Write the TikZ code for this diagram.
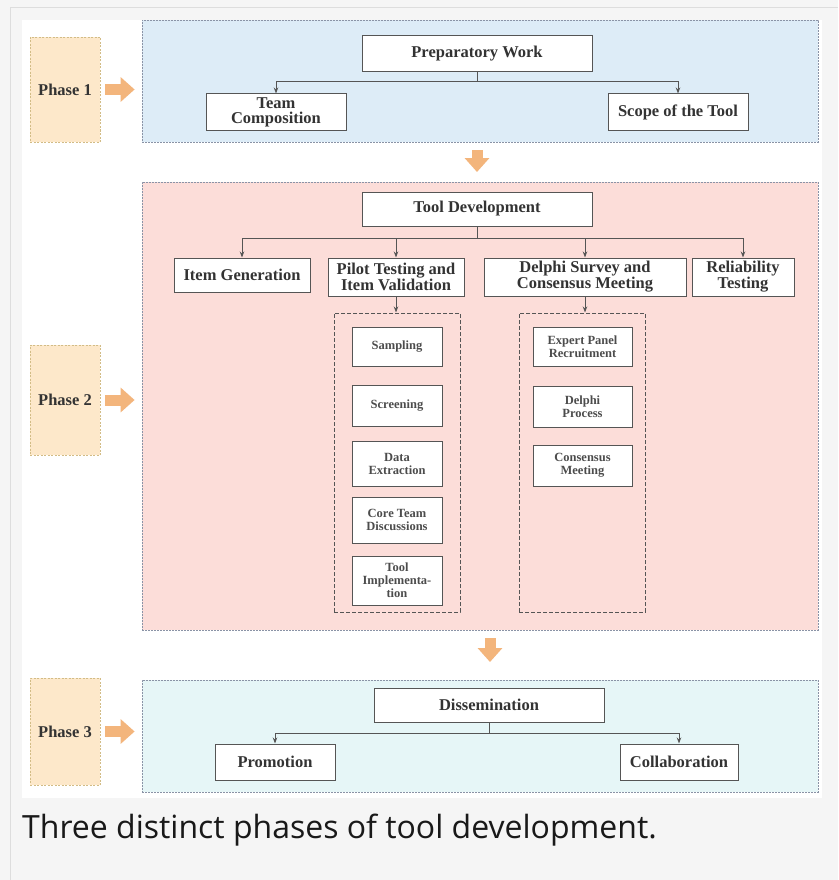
\documentclass[tikz,border=0pt]{standalone}
\usepackage{fontspec}
\setmainfont{Liberation Serif}
\newfontfamily\capfont{Open Sans}
\usetikzlibrary{arrows.meta,calc}
\definecolor{pagebg}{HTML}{F5F5F5}
\definecolor{frameln}{HTML}{DDDDDD}
\definecolor{phfill}{HTML}{FDE8CA}
\definecolor{phline}{HTML}{D2BC86}
\definecolor{blufill}{HTML}{DDECF7}
\definecolor{pinkfill}{HTML}{FCDDD9}
\definecolor{cyanfill}{HTML}{E6F6F7}
\definecolor{contln}{HTML}{8A93A6}
\definecolor{orng}{HTML}{F3B57C}
\definecolor{boxln}{HTML}{555555}
\tikzset{
  x=1pt,y=-1pt,
  box/.style={draw=boxln,line width=1pt,fill=white,align=center,inner sep=1pt,
    font=\bfseries\fontsize{16.5}{15}\selectfont,text=black!80},
  subbox/.style={box,font=\bfseries\fontsize{12.5}{13}\selectfont,text=black!70,minimum width=90pt},
  phasebox/.style={draw=phline,dashed,dash pattern=on 2pt off 1.5pt,fill=phfill,
    minimum width=70pt,font=\bfseries\fontsize{16.5}{16}\selectfont,text=black!80},
  cont/.style={draw=contln,dash pattern=on 2pt off 1pt,line width=0.8pt},
  subcont/.style={draw=boxln,dash pattern=on 4pt off 2pt,line width=1pt},
  conn/.style={draw=boxln,line width=1pt},
  tip/.style={conn,-{Stealth[length=6pt,width=4.5pt]}},
  bigarrow/.style={draw=orng,line width=11pt,-{Triangle[length=14pt,width=24pt]}},
}
\begin{document}
\begin{tikzpicture}
\useasboundingbox (0,0) rectangle (838,880);
\fill[pagebg] (0,0) rectangle (838,880);
\draw[frameln,line width=1pt] (10,880) -- (10,8) -- (838,8);
\fill[white] (22,20) rectangle (822,798);

% containers
\node[cont,fill=blufill,minimum width=676pt,minimum height=122pt,inner sep=0pt] (c1) at (480,81) {};
\node[cont,fill=pinkfill,minimum width=676pt,minimum height=448pt,inner sep=0pt] (c2) at (480,406) {};
\node[cont,fill=cyanfill,minimum width=676pt,minimum height=112pt,inner sep=0pt] (c3) at (480,736) {};

% phase boxes
\node[phasebox,minimum height=105pt] (p1) at (65,89.5) {Phase 1};
\node[phasebox,minimum height=110pt] (p2) at (65,400) {Phase 2};
\node[phasebox,minimum height=107pt] (p3) at (65,731.5) {Phase 3};

\draw[bigarrow,shorten <=5pt,shorten >=7pt] (p1.east) -- (p1.east -| c1.west);
\draw[bigarrow,shorten <=5pt,shorten >=7pt] (p2.east) -- (p2.east -| c2.west);
\draw[bigarrow,shorten <=5pt,shorten >=7pt] (p3.east) -- (p3.east -| c3.west);

\coordinate (d1) at (477,142);
\coordinate (d1e) at (477,182);
\draw[bigarrow,shorten <=8pt,shorten >=10pt] (d1) -- (d1e);
\coordinate (d2) at (490,630);
\coordinate (d2e) at (490,680);
\draw[bigarrow,shorten <=8pt,shorten >=18pt] (d2) -- (d2e);

% Phase 1
\node[box,minimum width=230pt,minimum height=36pt] (pw) at (477,54) {Preparatory Work};
\node[box,minimum width=140pt,minimum height=36pt] (tc) at (276,112) {Team\\Composition};
\node[box,minimum width=140pt,minimum height=36pt] (st) at (678,112) {Scope of the Tool};
\coordinate (j1) at (477,82);
\draw[conn] (pw.south) -- (j1);
\draw[tip] (j1) -| (tc.north);
\draw[tip] (j1) -| (st.north);

% Phase 2
\node[box,minimum width=230pt,minimum height=34pt] (td) at (477,209) {Tool Development};
\node[box,minimum width=136pt,minimum height=34pt] (ig) at (242,275) {Item Generation};
\node[box,minimum width=136pt,minimum height=38pt] (pt) at (396,277) {Pilot Testing and\\Item Validation};
\node[box,minimum width=202pt,minimum height=38pt] (ds) at (585,277) {Delphi Survey and\\Consensus Meeting};
\node[box,minimum width=102pt,minimum height=38pt] (rt) at (743,277) {Reliability\\Testing};
\coordinate (j2) at (477,238);
\draw[conn] (td.south) -- (j2);
\draw[tip] (j2) -| (ig.north);
\draw[tip] (j2) -| (pt.north);
\draw[tip] (j2) -| (ds.north);
\draw[tip] (j2) -| (rt.north);

\node[subcont,minimum width=126pt,minimum height=299pt,inner sep=0pt] (sc1) at (397,462.5) {};
\node[subcont,minimum width=126pt,minimum height=299pt,inner sep=0pt] (sc2) at (582,462.5) {};
\draw[tip] (pt.south) -- (pt.south |- sc1.north);
\draw[tip] (ds.south) -- (ds.south |- sc2.north);

\node[subbox,minimum height=39pt] (s1) at (397,346.5) {Sampling};
\node[subbox,minimum height=41pt] (s2) at (397,405.5) {Screening};
\node[subbox,minimum height=45pt] (s3) at (397,463.5) {Data\\Extraction};
\node[subbox,minimum height=46pt] (s4) at (397,520) {Core Team\\Discussions};
\node[subbox,minimum height=49pt] (s5) at (397,580.5) {Tool\\Implementa-\\tion};

\node[subbox,minimum width=99pt,minimum height=39pt] (e1) at (582.5,346.5) {Expert Panel\\Recruitment};
\node[subbox,minimum width=99pt,minimum height=41pt] (e2) at (582.5,406.5) {Delphi\\Process};
\node[subbox,minimum width=99pt,minimum height=41pt] (e3) at (582.5,465.5) {Consensus\\Meeting};

% Phase 3
\node[box,minimum width=230pt,minimum height=34pt] (dm) at (489,705) {Dissemination};
\node[box,minimum width=120pt,minimum height=36pt] (pr) at (275,762) {Promotion};
\node[box,minimum width=118pt,minimum height=36pt] (co) at (679,762) {Collaboration};
\coordinate (j3) at (489,733);
\draw[conn] (dm.south) -- (j3);
\draw[tip] (j3) -| (pr.north);
\draw[tip] (j3) -| (co.north);

% caption
\node[anchor=base west,inner sep=0pt,font=\capfont\fontsize{32}{32}\selectfont,text=black!90] (cap) at (22,838) {Three distinct phases of tool development.};
\end{tikzpicture}
\end{document}
